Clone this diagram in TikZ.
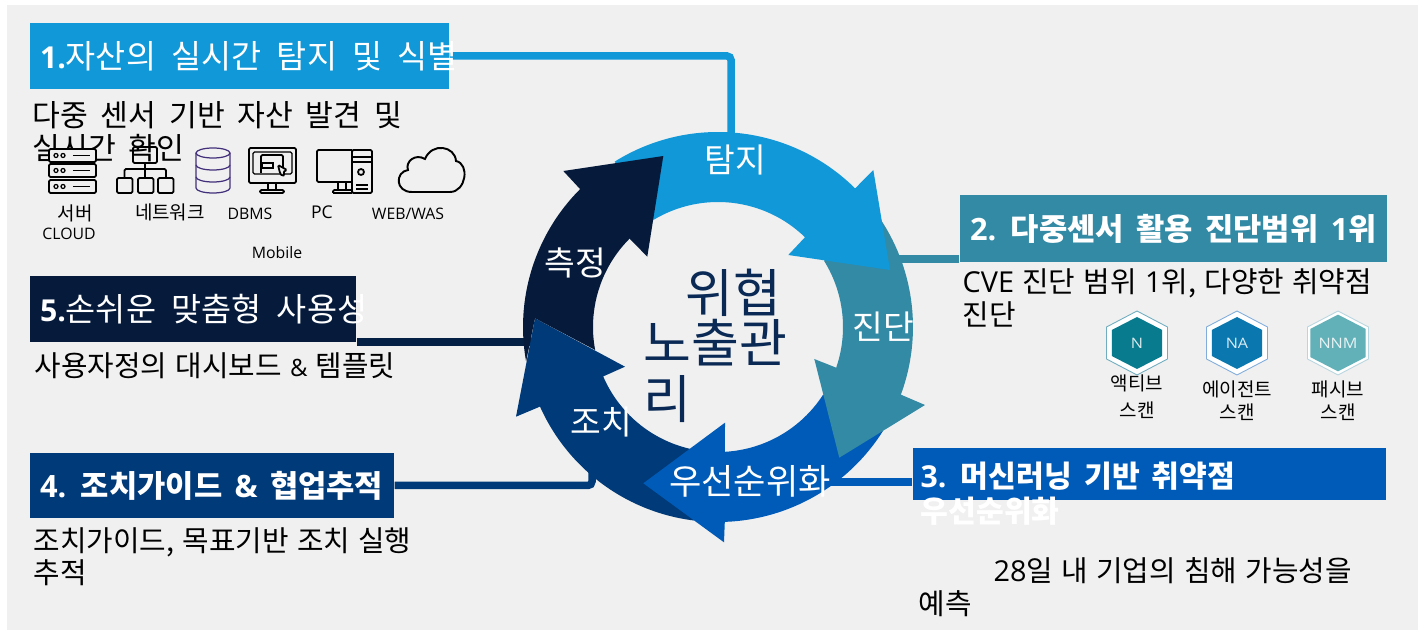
\documentclass[tikz,border=0pt]{standalone}
\usepackage{fontspec}
\setmainfont{Noto Sans CJK KR}
\newfontfamily\latinfont{Open Sans}
\newcommand{\ltn}[1]{{\latinfont #1}}
\newcommand{\gaps}[1]{\spaceskip #1em\relax}
\usetikzlibrary{arrows}
\usetikzlibrary{positioning}
\usetikzlibrary{shapes.geometric}
\definecolor{panelgray}{HTML}{F0F0F0}
\definecolor{detectblue}{HTML}{1098D8}
\definecolor{diagteal}{HTML}{338AA5}
\definecolor{priorblue}{HTML}{005BB8}
\definecolor{fixnavy}{HTML}{003A78}
\definecolor{measuredark}{HTML}{061B3C}
\definecolor{centernavy}{HTML}{0A2A55}
\definecolor{dbpurple}{HTML}{43307A}
\definecolor{activecolor}{HTML}{087B8E}
\definecolor{agentcolor}{HTML}{0A78AE}
\definecolor{passivecolor}{HTML}{62B0B8}
\tikzset{>=latex}
\tikzset{
  titlebox/.style={inner sep=0pt, minimum height=0.66cm},
  titletext/.style={text=white, inner sep=0pt, font=\fontsize{9.3}{11}\selectfont\gaps{0.47}, align=left},
  boldtitle/.style={titletext, font=\fontsize{8.75}{10}\bfseries\selectfont\gaps{0.4}},
  bodytext/.style={anchor=west, inner sep=0pt, align=left, font=\fontsize{8.2}{9.2}\selectfont\gaps{0.29}},
  ringtext/.style={text=white, inner sep=0pt, font=\fontsize{9.5}{10}\selectfont},
  smalltext/.style={inner sep=0pt, align=center, font=\fontsize{5.4}{7.6}\selectfont},
  latintext/.style={inner sep=0pt, font=\latinfont\fontsize{4.5}{5}\selectfont},
  link/.style={line width=0.75mm, rounded corners=0.4mm},
  iconline/.style={line width=0.5pt, rounded corners=0.4pt},
  hexouter/.style={regular polygon, regular polygon sides=6, shape border rotate=30, minimum size=0.64cm, inner sep=0pt, fill=white, draw=#1, line width=0.25pt, xscale=1.1, transform shape},
  hexinner/.style={regular polygon, regular polygon sides=6, shape border rotate=30, minimum size=0.52cm, inner sep=0pt, fill=#1, text=white!85!#1, font=\latinfont\fontsize{4.1}{5}\selectfont, xscale=1.12, transform shape},
}

\begin{document}
\begin{tikzpicture}
    \useasboundingbox (0,0) rectangle (14.25,6.32);
    % Draw the panel behind everything.
    \fill[panelgray] (0.07,0.02) rectangle (14.18,6.27);

    % Draw the title boxes.
    \node[titlebox, fill=detectblue, minimum width=4.19cm] (detectbox) at (2.395,5.76) {};
    \node[titlebox, fill=diagteal, minimum width=4.27cm, minimum height=0.67cm] (diagbox) at (11.735,4.035) {};
    \node[titlebox, fill=priorblue, minimum width=4.73cm, minimum height=0.52cm] (priorbox) at (11.495,1.58) {};
    \node[titlebox, fill=fixnavy, minimum width=3.64cm, minimum height=0.65cm] (fixbox) at (2.12,1.465) {};
    \node[titlebox, fill=measuredark, minimum width=3.26cm] (measurebox) at (1.93,3.23) {};

    % Draw the links from the boxes to the ring.
    \coordinate (detectend) at (7.31,4.9);
    \coordinate (diagend) at (8.8,3.73);
    \coordinate (priorend) at (8.2,1.5);
    \coordinate (fixend) at (5.92,1.6);
    \coordinate (measureend) at (5.4,2.9);
    \draw[link, detectblue] (detectbox.east) -| (detectend);
    \draw[link, diagteal] (diagend) -- (diagend -| diagbox.west);
    \draw[link, priorblue] (priorend) -- (priorend -| priorbox.west);
    \draw[link, fixnavy] (fixbox.east) -| (fixend);
    \draw[link, measuredark!85!fixnavy] (measureend) -- (measureend -| measurebox.east);

    % Draw the ring, one arrow at a time.
    \begin{scope}[shift={(7.18,3.05)}]
      \fill[fixnavy] (263:1.95) arc[start angle=263, end angle=204.1, radius=1.95] -- (-2.02,-0.897) -- (-1.83,0.087) -- (-0.93,-0.397) -- (203.3:1.25) arc[start angle=203.3, end angle=257, radius=1.25] -- cycle;
      \fill[priorblue] (-0.747,-1.563) -- (0.07,-0.957) -- (273.2:1.25) arc[start angle=273.2, end angle=327.2, radius=1.25] -- (327.7:1.95) arc[start angle=327.7, end angle=272, radius=1.95] -- (0.06,-2.153) -- cycle;
      \fill[diagteal] (1.213,-1.307) -- (2.07,-0.78) -- (-20.3:1.95) arc[start angle=-20.3, end angle=33.2, radius=1.95] -- (32:1.25) arc[start angle=32, end angle=-19, radius=1.25] -- (0.963,-0.32) -- cycle;
      \fill[detectblue] (122:1.95) arc[start angle=122, end angle=45.3, radius=1.95] -- (1.553,1.57) -- (1.72,0.57) -- (0.703,0.72) -- (45.9:1.25) arc[start angle=45.9, end angle=121, radius=1.25] -- cycle;
      \fill[measuredark] (-0.547,1.71) -- (-1.547,1.56) -- (135:1.95) arc[start angle=135, end angle=190.2, radius=1.95] -- (-1.83,0.087) -- (190.6:1.25) arc[start angle=190.6, end angle=135, radius=1.25] -- (-0.707,0.703) -- cycle;
    \end{scope}

    % Draw the ring labels and the centre text.
    \node[ringtext] (detectlabel) at (7.355,4.72) {탐지};
    \node[ringtext] (diaglabel) at (8.83,3.05) {진단};
    \node[ringtext, font=\fontsize{10}{11}\selectfont] (priorlabel) at (7.50,1.51) {우선순위화};
    \node[ringtext] (fixlabel) at (6.015,2.10) {조치};
    \node[ringtext] (measurelabel) at (5.755,3.69) {측정};
    \node[inner sep=0pt, anchor=north west, align=left, text=centernavy, font=\fontsize{14.8}{14.2}\selectfont] (centerlabel) at (6.43,3.64) {\hspace*{0.42cm}위협\\노출관\\[2pt]리};

    % Draw the titles on top of their boxes.
    \node[titletext, right=0.1cm of detectbox.west] (detecttitle) {{\latinfont\bfseries\fontsize{8.6}{11}\selectfont 1.}자산의 실시간 탐지 및 식별};
    \node[boldtitle, right=0.1cm of diagbox.west] (diagtitle) {\ltn{2.} 다중센서 활용 진단범위 \ltn{1}위};
    \node[boldtitle, font=\fontsize{8.6}{10}\bfseries\selectfont\gaps{0.4}, anchor=north west] (priortitle) at (9.2,1.71) {\ltn{3.} 머신러닝 기반 취약점\\우선순위화};
    \node[boldtitle, right=0.1cm of fixbox.west] (fixtitle) {\ltn{4.} 조치가이드 \ltn{\&} 협업추적};
    \node[titletext, right=0.1cm of measurebox.west] (measuretitle) {{\latinfont\bfseries\fontsize{8.6}{11}\selectfont 5.}손쉬운 맞춤형 사용성};

    % Draw the body texts.
    \node[bodytext, font=\fontsize{8.6}{9.3}\selectfont\gaps{0.42}] (detectbody) at (0.32,5.0) {다중 센서 기반 자산 발견 및\\실시간 확인};
    \node[bodytext] (diagbody) at (9.62,3.34) {\ltn{CVE} 진단 범위 \ltn{1}위, 다양한 취약점\\진단};
    \node[bodytext] (priorbody) at (9.18,0.45) {\hspace*{0.75cm}\ltn{28}일 내 기업의 침해 가능성을\\예측};
    \node[bodytext] (fixbody) at (0.33,0.75) {조치가이드, 목표기반 조치 실행\\추적};
    \node[bodytext] (measurebody) at (0.34,2.66) {사용자정의 대시보드 {\fontsize{6.8}{7}\selectfont\ltn{\&}} 템플릿};

    % Draw the asset icons.
    \foreach \y in {4.39,4.55,4.70}{
      \draw[iconline, fill=panelgray] (0.49,\y) rectangle ++(0.47,0.13);
      \draw[line width=0.35pt] (0.56,\y+0.065) circle (0.02) (0.63,\y+0.065) circle (0.02);
      \draw[line width=0.5pt] (0.73,\y+0.065) -- (0.90,\y+0.065);
    }
    \draw[iconline] (1.33,4.69) rectangle (1.57,4.85);
    \draw[iconline] (1.45,4.69) -- (1.45,4.54) (1.245,4.54) -- (1.245,4.63) -- (1.66,4.63) -- (1.66,4.54);
    \foreach \x in {1.17,1.38,1.58}{
      \draw[iconline] (\x,4.39) rectangle ++(0.155,0.15);
    }
    \begin{scope}[line width=0.35pt, draw=dbpurple]
      \draw (2.13,4.79) ellipse (0.17 and 0.05);
      \draw (1.96,4.79) -- (1.96,4.44) arc[start angle=180, end angle=360, x radius=0.17, y radius=0.05] -- (2.30,4.79);
      \draw (1.96,4.67) arc[start angle=180, end angle=360, x radius=0.17, y radius=0.05];
      \draw (1.96,4.55) arc[start angle=180, end angle=360, x radius=0.17, y radius=0.05];
    \end{scope}
    \draw[iconline] (2.49,4.49) rectangle (2.96,4.84);
    \draw[iconline, line width=0.35pt] (2.53,4.58) rectangle (2.92,4.80);
    \draw[iconline] (2.61,4.59) -- (2.61,4.77) -- (2.83,4.77) -- (2.83,4.62);
    \draw[line width=0.35pt] (2.62,4.64) rectangle (2.73,4.69);
    \draw[iconline, fill=panelgray] (2.78,4.67) -- (2.87,4.62) -- (2.83,4.60) -- (2.85,4.57) -- (2.82,4.56) -- (2.80,4.59) -- cycle;
    \draw[iconline] (2.68,4.49) -- (2.68,4.42) (2.76,4.49) -- (2.76,4.42) (2.60,4.39) rectangle (2.84,4.42);
    \draw[iconline] (3.52,4.50) -- (3.17,4.50) -- (3.17,4.82) -- (3.52,4.82);
    \draw[iconline] (3.52,4.39) rectangle (3.72,4.82);
    \draw[line width=0.35pt] (3.52,4.75) -- (3.72,4.75) (3.52,4.70) -- (3.72,4.70);
    \draw[line width=0.5pt] (3.61,4.60) circle (0.03);
    \draw[line width=0.35pt] (3.56,4.47) -- (3.68,4.47) (3.56,4.43) -- (3.68,4.43);
    \draw[iconline] (3.38,4.50) -- (3.38,4.42) (3.46,4.50) -- (3.46,4.42) (3.33,4.39) -- (3.52,4.39) (3.33,4.39) -- (3.33,4.42) -- (3.52,4.42);
    \draw[line width=0.55pt] (4.12,4.40) -- (4.50,4.40) .. controls (4.66,4.40) and (4.70,4.68) .. (4.56,4.71) .. controls (4.55,4.86) and (4.32,4.90) .. (4.25,4.73) .. controls (4.15,4.79) and (4.05,4.70) .. (4.08,4.62) .. controls (3.95,4.60) and (3.95,4.40) .. (4.12,4.40);

    % Draw the asset labels.
    \node[smalltext] (serverlabel) at (0.75,4.19) {서버};
    \node[latintext] (cloudlabel) at (0.69,3.98) {CLOUD};
    \node[smalltext] (networklabel) at (1.70,4.20) {네트워크};
    \node[latintext] (dbmslabel) at (2.50,4.18) {DBMS};
    \node[latintext, font=\latinfont\fontsize{5}{6}\selectfont] (pclabel) at (3.22,4.20) {PC};
    \node[latintext] (weblabel) at (4.08,4.18) {WEB/WAS};
    \node[latintext] (mobilelabel) at (2.77,3.79) {Mobile};

    % Draw the scan badges and their labels.
    \node[hexouter=diagteal!70] (activehex) at (11.37,2.89) {};
    \node[hexinner=activecolor] (activecore) at (activehex) {N};
    \node[smalltext, below=-0.01cm of activehex] (activelabel) {액티브\\스캔};
    \node[hexouter=priorblue!50] (agenthex) at (12.37,2.89) {};
    \node[hexinner=agentcolor] (agentcore) at (agenthex) {NA};
    \node[smalltext, font=\fontsize{5.4}{6.4}\selectfont, below=0.05cm of agenthex] (agentlabel) {에이전트\\스캔};
    \node[hexouter=diagteal!35] (passivehex) at (13.38,2.89) {};
    \node[hexinner=passivecolor] (passivecore) at (passivehex) {NNM};
    \node[smalltext, font=\fontsize{5.4}{6.4}\selectfont, below=0.05cm of passivehex] (passivelabel) {패시브\\스캔};
\end{tikzpicture}
\end{document}
